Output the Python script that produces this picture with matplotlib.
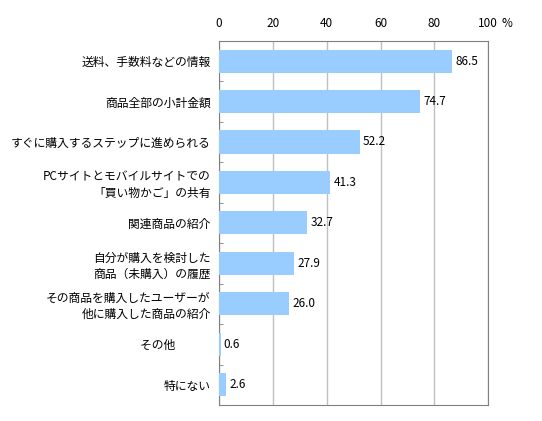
import numpy as np
import matplotlib.pyplot as plt

plt.rcParams['font.family'] = ['Noto Sans CJK JP', 'DejaVu Sans']

labels = ['送料、手数料などの情報', '商品全部の小計金額', 'すぐに購入するステップに進められる',
          'PCサイトとモバイルサイトでの\n「買い物かご」の共有', '関連商品の紹介',
          '自分が購入を検討した\n商品（未購入）の履歴', 'その商品を購入したユーザーが\n他に購入した商品の紹介',
          'その他　　　', '特にない']
values = [86.5, 74.7, 52.2, 41.3, 32.7, 27.9, 26.0, 0.6, 2.6]
xticks = [0, 20, 40, 60, 80, 100]
xticklabels = ['0', '20', '40', '60', '80', '100']

fig = plt.figure(figsize=(5.42, 4.21), dpi=100)
ax = fig.add_axes([0.404, 0.038, 0.497, 0.865])

y = np.arange(len(labels))
ax.barh(y, values, height=0.57, color='#99CCFF', zorder=3)
for yi, v in zip(y, values):
    ax.text(v + 1.2, yi, f'{v:.1f}', va='center', ha='left', fontsize=8.5, zorder=4)

ax.set_xlim(0, 100)
ax.set_ylim(len(labels) - 0.5, -0.5)
ax.set_xticks(xticks)
ax.set_xticklabels(xticklabels, fontsize=8.5)
ax.xaxis.tick_top()
ax.tick_params(axis='x', length=0, pad=8)
ax.set_yticks(y)
ax.set_yticklabels(labels, fontsize=8.5, linespacing=1.3)
ax.tick_params(axis='y', length=0, pad=6)
ax.set_yticks(np.arange(len(labels) - 1) + 0.5, minor=True)
ax.tick_params(axis='y', which='minor', direction='in', length=3, color='#808080')
ax.grid(axis='x', color='#C0C0C0', linewidth=1, zorder=0)
for s in ax.spines.values():
    s.set_color('#808080')
ax.text(1.07, 1.0, '%', transform=ax.transAxes, fontsize=8.5, ha='center', va='bottom')
ax.xaxis.get_ticklabels()
fig.canvas.draw()
lab = ax.get_xticklabels()[0]
pos = ax.transAxes.inverted().transform(lab.get_window_extent().get_points())
ax.texts[-1].set_y((pos[0][1] + pos[1][1]) / 2)
ax.texts[-1].set_va('center')

fig.savefig('out.png', dpi=100)
